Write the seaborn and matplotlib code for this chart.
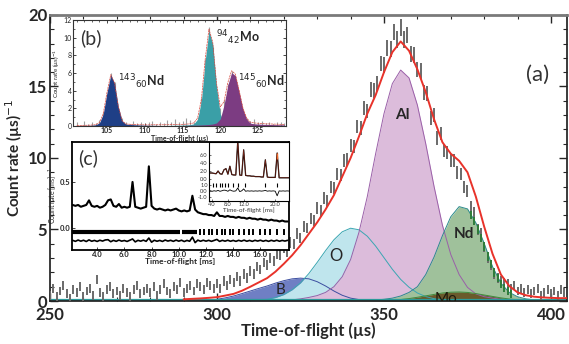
import numpy as np
import pandas as pd
import seaborn as sns
import matplotlib.pyplot as plt
from matplotlib.ticker import MultipleLocator

# ---- main spectrum (a): count rate per 1 us bin, 250..405 us
tof = np.arange(250, 406, 1.0)
counts = [0.4, 0.9, 0.3, 0.7, 1.1, 0.5, 0.2, 0.8, 0.6, 1.0,
          0.3, 0.7, 0.9, 0.4, 1.5, 0.6, 0.3, 0.8, 1.0, 0.5,
          0.7, 0.4, 0.9, 0.6, 0.3, 0.8, 1.1, 0.5, 0.7, 0.9,
          0.6, 1.0, 0.4, 0.8, 1.2, 0.7, 0.5, 1.0, 0.8, 1.3,
          0.6, 0.9, 1.1, 0.7, 1.2, 1.0, 0.8, 1.3, 1.1, 0.9,
          1.2, 0.9, 1.4, 1.1, 1.5, 1.3, 1.7, 1.4, 1.9, 1.6,
          2.1, 1.9, 2.4, 2.2, 2.7, 2.5, 3.0, 2.8, 3.3, 3.2,
          3.7, 3.4, 4.1, 4.0, 4.7, 4.4, 5.2, 5.1, 5.8, 5.6,
          6.5, 6.3, 7.2, 7.0, 8.0, 7.9, 8.9, 8.8, 9.8, 9.9,
          10.9, 10.8, 12.2, 12.1, 13.5, 13.3, 14.8, 14.7, 15.2, 16.6,
          16.5, 17.7, 17.6, 18.8, 18.3, 19.1, 18.3, 18.6, 17.3, 17.2,
          16.2, 16.1, 14.6, 14.5, 12.8, 13.0, 11.4, 11.7, 10.5, 10.4,
          9.8, 9.8, 9.0, 8.9, 8.0, 7.7, 6.6, 6.2, 5.0, 4.7,
          3.8, 3.0, 2.5, 1.9, 1.6, 1.4, 1.3, 1.2, 0.9, 1.1,
          0.7, 0.9, 0.6, 0.8, 0.5, 0.7, 0.9, 0.4, 0.6, 0.8,
          0.5, 0.7, 0.4, 0.8, 0.6, 0.5]

# Nd-tagged data on the right flank
nd_data_tof = np.arange(376, 389, 1.0)
nd_data = [6.0, 5.6, 5.0, 4.4, 3.8, 3.1, 2.6, 2.0, 1.6, 1.2, 0.9, 0.7, 0.5]

# fitted components, 2.5 us grid 290..405
comp_tof = np.arange(290, 405.1, 2.5)
fit_total = [0.12, 0.15, 0.18, 0.22, 0.27, 0.38, 0.5, 0.72, 1.0, 1.3,
             1.6, 2.05, 2.6, 3.2, 3.9, 4.7, 5.5, 6.4, 7.4, 8.7,
             10.0, 11.5, 13.1, 14.4, 16.0, 17.4, 18.15, 17.5, 16.2, 14.6,
             12.7, 11.1, 10.3, 9.8, 9.0, 7.3, 5.2, 3.3, 1.85, 1.05,
             0.6, 0.4, 0.3, 0.25, 0.22, 0.2, 0.2]
b_comp = [0.0, 0.0, 0.0, 0.05, 0.12, 0.22, 0.35, 0.52, 0.7, 0.88,
          1.05, 1.25, 1.42, 1.55, 1.6, 1.55, 1.35, 1.05, 0.7, 0.4,
          0.2, 0.1, 0.04, 0.01, 0, 0, 0, 0, 0, 0,
          0, 0, 0, 0, 0, 0, 0, 0, 0, 0,
          0, 0, 0, 0, 0, 0, 0]
o_comp = [0, 0, 0, 0, 0.002, 0.004, 0.01, 0.015, 0.025, 0.055,
          0.12, 0.24, 0.45, 0.79, 1.27, 1.92, 2.7, 3.52, 4.28, 4.84,
          5.09, 4.98, 4.53, 3.84, 3.03, 2.22, 1.51, 0.96, 0.56, 0.31,
          0.16, 0.08, 0.034, 0.015, 0.005, 0, 0, 0, 0, 0,
          0, 0, 0, 0, 0, 0, 0]
al_comp = [0, 0, 0, 0, 0, 0, 0, 0, 0, 0,
           0.01, 0.02, 0.04, 0.08, 0.15, 0.25, 0.38, 0.6, 1.0, 1.7,
           2.9, 4.8, 7.3, 10.3, 13.1, 15.2, 16.15, 15.6, 13.7, 11.0,
           8.0, 5.3, 3.25, 1.85, 0.95, 0.5, 0.3, 0.2, 0.12, 0.08,
           0.05, 0.03, 0.02, 0.01, 0, 0, 0]
nd_comp = [0, 0, 0, 0, 0, 0, 0, 0, 0, 0,
           0, 0, 0, 0, 0, 0.003, 0.005, 0.008, 0.01, 0.015,
           0.02, 0.03, 0.04, 0.07, 0.12, 0.2, 0.35, 0.6, 1.0, 1.85,
           3.08, 4.57, 5.89, 6.6, 6.44, 5.47, 4.03, 2.4, 1.25, 0.6,
           0.3, 0.15, 0.08, 0.05, 0.03, 0.02, 0.01]
mo_comp = [0, 0, 0, 0, 0, 0, 0, 0, 0, 0,
           0, 0, 0, 0, 0, 0, 0, 0, 0, 0,
           0.002, 0.004, 0.008, 0.016, 0.032, 0.06, 0.105, 0.17, 0.26, 0.36,
           0.46, 0.56, 0.615, 0.63, 0.6, 0.52, 0.42, 0.32, 0.22, 0.14,
           0.085, 0.047, 0.024, 0.012, 0.005, 0, 0]

# ---- inset (b): isotope peaks, 0.5 us grid 101..128.5
b_tof = np.arange(101, 128.51, 0.5)
b_data = [0.4, 0.1, 0.6, 0.2, 0.5, 0.3, 0.7, 1.6, 3.6, 6.0,
          5.0, 2.0, 0.9, 0.5, 0.2, 0.6, 0.3, 0.5, 0.1, 0.4,
          0.6, 0.2, 0.5, 0.3, 0.7, 0.4, 0.8, 0.5, 0.6, 0.9,
          0.7, 0.5,
          1.0, 3.2, 7.6, 11.2, 9.0, 4.6, 2.0, 2.9, 4.8, 6.2,
          5.5, 3.7, 1.8, 0.9, 0.6, 0.8, 0.4, 0.6, 0.3, 0.5,
          0.2, 0.4, 0.5, 0.3]
nd143 = [0.05, 0.06, 0.07, 0.08, 0.1, 0.14, 0.36, 1.35, 3.8, 5.8,
         4.85, 2.2, 0.6, 0.22, 0.18, 0.15, 0.13, 0.11, 0.1, 0.09,
         0.08, 0.07, 0.06, 0.05, 0.045, 0.04, 0.035, 0.03, 0.025, 0.02,
         0.02, 0.015, 0.015, 0.01, 0.01, 0.01, 0.01, 0.01, 0.01, 0.01,
         0.01, 0.01, 0.01, 0.01, 0.01, 0.01, 0.01, 0.01, 0.01, 0.01,
         0.01, 0.01, 0.01, 0.01, 0.01, 0.01]
mo94 = [0.01, 0.01, 0.01, 0.01, 0.01, 0.01, 0.01, 0.01, 0.01, 0.01,
        0.01, 0.01, 0.01, 0.01, 0.02, 0.02, 0.025, 0.03, 0.03, 0.035,
        0.04, 0.045,
        0.05, 0.055, 0.06, 0.07, 0.08, 0.09, 0.1, 0.12, 0.15, 0.25,
        0.78, 2.9, 7.4, 10.8, 9.25, 4.5, 1.35, 0.35, 0.25, 0.2,
        0.17, 0.15, 0.13, 0.12, 0.1, 0.09, 0.08, 0.07, 0.06, 0.055,
        0.05, 0.045, 0.04, 0.035]
nd145 = [0, 0, 0, 0, 0, 0, 0, 0, 0, 0,
         0, 0, 0, 0, 0, 0, 0, 0, 0, 0,
         0.02, 0.025, 0.03, 0.035, 0.04, 0.045, 0.05, 0.055, 0.06, 0.07,
         0.08, 0.09,
         0.1, 0.12, 0.14, 0.17, 0.23, 0.35, 0.8, 2.4, 4.65, 6.05,
         5.7, 3.85, 1.9, 0.75, 0.32, 0.25, 0.22, 0.2, 0.18, 0.17,
         0.16, 0.15, 0.14, 0.13]

# ---- inset (c): long-range spectrum in ms, 0.2 ms grid 2.2..18.0
c_tof = np.arange(2.2, 18.01, 0.2)
c_rate = [0.25, 0.24, 0.25, 0.23, 0.24, 0.25, 0.30, 0.24, 0.23, 0.24,
          0.22, 0.23, 0.25, 0.30, 0.31, 0.24, 0.23, 0.26, 0.22, 0.23,
          0.22, 0.23, 0.50, 0.23, 0.22, 0.21, 0.22, 0.23, 0.67, 0.24,
          0.21, 0.20, 0.21, 0.20, 0.19, 0.20, 0.19, 0.20, 0.21, 0.19,
          0.18, 0.19, 0.18, 0.19, 0.35, 0.20, 0.17, 0.16, 0.15, 0.15,
          0.14, 0.14, 0.13, 0.17, 0.13, 0.13, 0.12, 0.13, 0.12, 0.12,
          0.11, 0.12, 0.11, 0.11, 0.10, 0.11, 0.10, 0.10, 0.09, 0.10,
          0.09, 0.09, 0.08, 0.09, 0.08, 0.08, 0.07, 0.08, 0.07, 0.07]
c_resid = [0.005, -0.006, 0.008, -0.004, 0.006, -0.008, 0.01, -0.005, 0.004, -0.007,
           0.006, -0.003, 0.009, 0.012, -0.01, 0.005, -0.006, 0.008, -0.004, 0.003,
           -0.007, 0.006, 0.02, -0.012, 0.005, -0.004, 0.007, -0.006, 0.03, -0.015,
           0.006, -0.005, 0.004, -0.007, 0.008, -0.003, 0.005, -0.006, 0.007, -0.004,
           0.006, -0.008, 0.004, -0.005, 0.04, -0.02, 0.007, -0.005, 0.006, -0.004,
           0.005, -0.006, 0.004, 0.015, -0.007, 0.005, -0.004, 0.006, -0.005, 0.004,
           -0.006, 0.005, -0.004, 0.007, -0.005, 0.004, -0.006, 0.005, -0.003, 0.006,
           -0.005, 0.004, -0.006, 0.005, -0.004, 0.006, -0.005, 0.004, -0.003, 0.005]
c_bands = [(2.15, 10.1), (10.2, 11.35)]
c_refl = [11.57, 11.87, 12.19, 12.43, 12.8, 13.17, 13.41, 13.78, 14.02, 14.39,
          14.76, 15.13, 15.49, 15.99, 16.35, 16.72, 17.21, 17.7]

# sub-inset of (c), 0.5 ms grid 3.0..23.5
s_tof = np.arange(3.0, 23.51, 0.5)
s_rate = [1.6, 1.5, 1.5, 1.4, 1.3, 2.0, 1.3, 1.2, 2.3, 2.6,
          1.2, 3.2, 1.1, 1.0, 1.0, 9.5, 1.0, 0.9, 7.3, 0.9,
          0.8, 0.8, 0.7, 0.7, 0.6, 0.6, 0.6, 0.5, 0.5, 4.8,
          0.5, 0.4, 0.4, 0.4, 0.4, 6.5, 0.3, 0.3, 0.3, 0.3,
          0.3, 0.3]
s_resid = [0, 0.05, -0.05, 0.04, -0.03, 0.1, -0.05, 0.04, 0.15, 0.1,
           -0.05, 0.2, 0.03, -0.04, 0.02, 0.5, -0.1, 0.03, 0.35, -0.05,
           0.03, -0.02, 0.02, -0.03, 0.02, -0.02, 0.03, -0.02, 0.02, 0.1,
           -0.03, 0.02, -0.02, 0.02, -0.03, -0.8, 0.02, -0.02, 0.02, -0.02,
           0.02, -0.01]
s_refl = [4.2, 5.0, 5.9, 6.5, 7.3, 8.1, 9.4, 10.5, 12.4, 17.5, 20.4]

sns.set_theme(style="ticks")
plt.rcParams['font.family'] = ['Lato', 'DejaVu Sans']
plt.rcParams['mathtext.fontset'] = 'dejavusans'

fig = plt.figure(figsize=(5.69, 3.44), dpi=100)
ax = fig.add_axes([0.0879, 0.125, 0.9086, 0.8314])

# component fills, then outlines on top
comps = [(b_comp, '#6f7fc4', '#3c4ea0'),
         (o_comp, '#bfe5ed', '#3aa6b2'),
         (al_comp, '#dcbcdb', '#9a5fa8'),
         (nd_comp, '#9fc19b', '#2b8b8c'),
         (mo_comp, '#6a5a2b', '#3f8a3c')]
for vals, fc, ec in comps:
    ax.fill_between(comp_tof, 0, vals, color=fc, lw=0, zorder=1)
for vals, fc, ec in comps:
    ax.plot(comp_tof, vals, color=ec, lw=0.7, zorder=2)
ax.axhline(0.04, color='#2b9a9a', lw=1.6, zorder=2)

df = pd.DataFrame({'tof': tof, 'counts': counts})
err = 0.3 + 0.015 * df['counts']
ax.vlines(df['tof'], (df['counts'] - err).clip(lower=0), df['counts'] + err,
          color='#6a6a6a', lw=1.4, zorder=3)
nd = np.array(nd_data)
ax.vlines(nd_data_tof, nd - 0.3, nd + 0.3, color='#2f7d3a', lw=1.4, zorder=3)

sns.lineplot(x=comp_tof, y=fit_total, ax=ax, color='#e8322a', lw=1.4, zorder=4)

ax.text(355.4, 13.0, 'Al', fontsize=11, fontweight='bold', ha='center', va='center', zorder=5)
ax.text(335.6, 3.15, 'O', fontsize=12, ha='center', va='center', zorder=5)
ax.text(373.9, 4.7, 'Nd', fontsize=11, fontweight='bold', ha='center', va='center', zorder=5)
ax.text(319, 0.75, 'B', fontsize=11, ha='center', va='center', zorder=5)
ax.text(368.5, 0.15, 'Mo', fontsize=11, color='#1e1a0c', ha='center', va='center',
        zorder=5, clip_on=True)
ax.text(396, 15.8, '(a)', fontsize=16, ha='center', va='center', color='#333333')

ax.set_xlim(250, 404.8)
ax.set_ylim(0, 20)
ax.xaxis.set_major_locator(MultipleLocator(50))
ax.xaxis.set_minor_locator(MultipleLocator(10))
ax.yaxis.set_major_locator(MultipleLocator(5))
ax.yaxis.set_minor_locator(MultipleLocator(1))
ax.tick_params(which='both', direction='in', top=True, right=True, labelsize=12, pad=2)
ax.tick_params(axis='x', which='both', pad=4)
ax.tick_params(which='major', length=6, width=1)
ax.tick_params(which='minor', length=3, width=0.8)
for t in ax.get_xticklabels() + ax.get_yticklabels():
    t.set_fontweight('bold')
ax.set_xlabel('Time-of-flight (µs)', fontsize=12, fontweight='bold', labelpad=0)
ax.set_ylabel('Count rate (µs)$^{-1}$', fontsize=11, fontweight='bold', labelpad=2)
for s in ['left', 'right', 'bottom']:
    ax.spines[s].set_color('#222222')
ax.spines['top'].set_color('#7a7a7a')
ax.spines['top'].set_linewidth(2)

# ---- inset (b)
axb = fig.add_axes([0.1283, 0.6337, 0.3743, 0.308])
axb.vlines(b_tof, 0, b_data, color='#a0a0a0', lw=0.8, zorder=1)
for vals, fc in [(nd143, '#1f3f86'), (mo94, '#3a9fa7'), (nd145, '#7c3c82')]:
    axb.fill_between(b_tof, 0, vals, color=fc, lw=0, zorder=2)
b_fit = np.array(nd143) + np.array(mo94) + np.array(nd145)
sns.lineplot(x=b_tof, y=b_fit, ax=axb, color='#d8463c', lw=0.5, ls=(0, (3, 1)), zorder=3)
axb.text(106.4, 5.0, r'$^{143}{}_{60}$Nd', fontsize=9, fontweight='bold', va='center')
axb.text(119.4, 10.0, r'$^{94}{}_{42}$Mo', fontsize=9, fontweight='bold', va='center')
axb.text(122.3, 5.0, r'$^{145}{}_{60}$Nd', fontsize=9, fontweight='bold', va='center')
axb.text(101.4, 10.0, '(b)', fontsize=14, va='center', color='#333333')
axb.set_xlim(100.5, 128.7)
axb.set_ylim(0, 12)
axb.xaxis.set_major_locator(MultipleLocator(5))
axb.xaxis.set_minor_locator(MultipleLocator(1))
axb.yaxis.set_major_locator(MultipleLocator(2))
axb.yaxis.set_minor_locator(MultipleLocator(1))
axb.tick_params(which='both', direction='in', top=True, right=True, labelsize=5, pad=1)
axb.tick_params(which='major', length=2.5, width=0.6)
axb.tick_params(which='minor', length=1.2, width=0.5)
for t in axb.get_xticklabels():
    t.set_fontweight('bold')
axb.set_xlabel('Time-of-flight (µs)', fontsize=5, fontweight='bold', labelpad=0)
axb.set_ylabel('Count rate (µs)$^{-1}$', fontsize=4.5, labelpad=1)
for s in axb.spines.values():
    s.set_linewidth(0.8)
    s.set_color('#333333')

# ---- inset (c)
axc = fig.add_axes([0.1265, 0.2733, 0.3814, 0.314])
sns.lineplot(x=c_tof, y=c_rate, ax=axc, color='black', lw=1.5)
axc.plot(c_tof, np.array(c_resid) - 0.14, color='black', lw=1.2)
for a, b in c_bands:
    axc.hlines(-0.045, a, b, color='black', lw=3)
axc.plot(c_refl, [-0.045] * len(c_refl), '|', color='black', ms=4.5, mew=1.4)
axc.text(2.6, 0.76, '(c)', fontsize=14, va='center', color='#333333')
axc.set_xlim(2.15, 18.1)
axc.set_ylim(-0.24, 0.935)
axc.set_xticks([4, 6, 8, 10, 12, 14, 16])
axc.set_xticklabels(['4.0', '6.0', '8.0', '10.0', '12.0', '14.0', '16.0'])
axc.set_yticks([0.0, 0.5])
axc.set_yticklabels(['0.0', '0.5'])
axc.tick_params(which='both', direction='in', labelsize=5.5, pad=1, length=2, width=0.6)
for t in axc.get_xticklabels() + axc.get_yticklabels():
    t.set_fontweight('bold')
axc.set_xlabel('Time-of-flight [ms]', fontsize=6, fontweight='bold', labelpad=0)
axc.set_ylabel('Count rate [ms]$^{-1}$', fontsize=5, labelpad=1)
for s in axc.spines.values():
    s.set_linewidth(1.3)
    s.set_color('black')

# ---- sub-inset of (c)
axs = fig.add_axes([0.3673, 0.4157, 0.1406, 0.1715])
axs.set_facecolor('white')
axs.plot(s_tof, s_rate, color='black', lw=0.9)
axs.plot(s_tof, s_rate, color='#8b2a1a', lw=0.4)
top = int(np.argmax(np.where(s_tof > 19, s_rate, 0)))
axs.vlines(s_tof[top], s_rate[top] * 0.78, s_rate[top], color='#f06a2a', lw=1.0)
axs.plot(s_refl, [-1.5] * len(s_refl), '|', color='black', ms=2.5, mew=0.8)
axs.plot(s_tof, 1.5 * np.array(s_resid) - 3.0, color='black', lw=0.6)
axs.set_xlim(3.2, 23.5)
axs.set_ylim(-5.5, 9.25)
axs.set_xticks([4, 8, 12, 20])
axs.set_xticklabels(['4.0', '8.0', '12.0', '20.0'])
axs.set_yticks([6, 4, 2, 0, -1.5, -3.0, -4.5])
axs.set_yticklabels(['6.0', '4.0', '2.0', '0.0', '1.0', '0.0', '-1.0'])
axs.tick_params(which='both', direction='in', labelsize=4, pad=1, length=1.5,
                width=0.5, colors='#333333')
axs.set_xlabel('Time-of-flight [ms]', fontsize=4.5, labelpad=0, color='#333333')
for s in axs.spines.values():
    s.set_linewidth(0.8)
    s.set_color('black')

fig.savefig('out.png', dpi=100)
